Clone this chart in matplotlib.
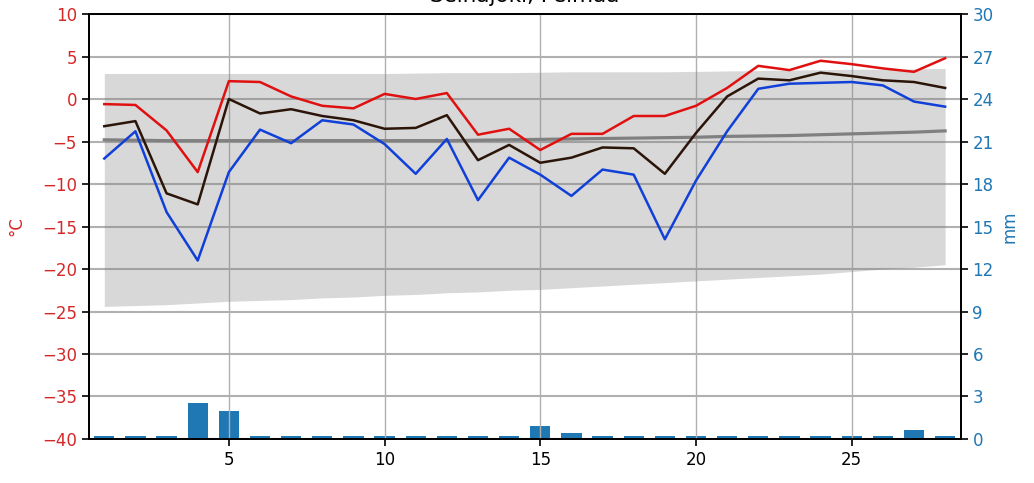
import matplotlib
matplotlib.use("Agg")
import matplotlib.pyplot as plt
import numpy as np

days = list(range(1, 29))

t_max = [-0.6, -0.7, -3.7, -8.6, 2.1, 2.0, 0.3, -0.8, -1.1, 0.6, 0.0, 0.7,
         -4.2, -3.5, -6.0, -4.1, -4.1, -2.0, -2.0, -0.8, 1.3, 3.9, 3.4, 4.5,
         4.1, 3.6, 3.2, 4.8]
t_mean = [-3.2, -2.6, -11.1, -12.4, 0.0, -1.7, -1.2, -2.0, -2.5, -3.5, -3.4, -1.9,
          -7.2, -5.4, -7.5, -6.9, -5.7, -5.8, -8.8, -4.0, 0.3, 2.4, 2.2, 3.1,
          2.7, 2.2, 2.0, 1.3]
t_min = [-7.0, -3.8, -13.3, -19.0, -8.6, -3.6, -5.2, -2.5, -3.0, -5.3, -8.8, -4.7,
         -11.9, -6.9, -8.9, -11.4, -8.3, -8.9, -16.5, -9.6, -3.8, 1.2, 1.8, 1.9,
         2.0, 1.6, -0.3, -0.9]
lt_mean = [-4.8, -4.85, -4.9, -4.9, -4.9, -4.9, -4.9, -4.9, -4.9, -4.9, -4.9, -4.9,
           -4.85, -4.8, -4.75, -4.7, -4.65, -4.6, -4.55, -4.5, -4.4, -4.35, -4.3, -4.2,
           -4.1, -4.0, -3.9, -3.75]
band_hi = [3.0, 3.0, 3.0, 3.0, 3.0, 3.0, 3.0, 3.0, 3.0, 3.0, 3.05, 3.1,
           3.1, 3.1, 3.15, 3.2, 3.2, 3.2, 3.2, 3.25, 3.3, 3.35, 3.4, 3.45,
           3.5, 3.5, 3.55, 3.6]
band_lo = [-24.4, -24.3, -24.2, -24.0, -23.8, -23.7, -23.6, -23.4, -23.3, -23.1, -23.0, -22.8,
           -22.7, -22.5, -22.4, -22.2, -22.0, -21.8, -21.6, -21.4, -21.2, -21.0, -20.8, -20.6,
           -20.3, -20.0, -19.8, -19.5]
precip = [0.2, 0.2, 0.2, 2.55, 1.95, 0.2, 0.2, 0.2, 0.2, 0.2, 0.2, 0.2,
          0.2, 0.2, 0.95, 0.45, 0.2, 0.2, 0.2, 0.2, 0.2, 0.2, 0.2, 0.2,
          0.2, 0.2, 0.65, 0.2]

title = "Seinäjoki, Pelmaa"
temp_ticks = [-40, -35, -30, -25, -20, -15, -10, -5, 0, 5, 10]
mm_ticks = [0, 3, 6, 9, 12, 15, 18, 21, 24, 27, 30]
x_ticks = [5, 10, 15, 20, 25]

RED = "#e01010"
BLUE = "#1040d8"
BROWN = "#2b1408"
TICK_RED = "#d62728"
TICK_BLUE = "#1f77b4"

fig = plt.figure(figsize=(10.34, 4.83), dpi=100)
ax = fig.add_axes([0.0858, 0.0911, 0.8433, 0.8799])
ax2 = ax.twinx()

ax.set_zorder(2)
ax.patch.set_visible(False)
ax2.set_zorder(1)

# grid
ax.set_axisbelow(True)
ax2.set_axisbelow(True)
ax2.grid(axis="y", color="#b0b0b0", linewidth=1.5)
ax2.grid(axis="x", visible=False)
ax.grid(axis="x", color="#b0b0b0", linewidth=1.0)

# precipitation bars
ax2.bar(days, precip, width=0.65, color="#1f77b4", zorder=2)
ax2.set_ylim(0, 30)
ax2.set_yticks(mm_ticks)
ax2.tick_params(axis="y", labelcolor=TICK_BLUE, labelsize=12, width=1.2, length=5)
ax2.set_ylabel("mm", color=TICK_BLUE, fontsize=12, labelpad=5)

# temperature
ax.fill_between(days, band_lo, band_hi, color="gray", alpha=0.3, linewidth=0, zorder=1)
ax.plot(days, lt_mean, color="#808080", linewidth=2.3, zorder=2)
ax.plot(days, t_min, color=BLUE, linewidth=1.8, zorder=3)
ax.plot(days, t_mean, color=BROWN, linewidth=1.8, zorder=3)
ax.plot(days, t_max, color=RED, linewidth=1.8, zorder=3)

ax.set_xlim(0.5, 28.5)
ax.set_ylim(-40, 10)
ax.set_yticks(temp_ticks)
ax.set_xticks(x_ticks)
ax.tick_params(axis="y", labelcolor=TICK_RED, labelsize=12, width=1.2, length=5)
ax.tick_params(axis="x", labelsize=12, width=1.2, length=5)
ax.set_ylabel("°C", color=TICK_RED, fontsize=12, labelpad=12)
ax.set_title(title, fontsize=15.5, pad=8.5)

for a in (ax, ax2):
    for s in a.spines.values():
        s.set_linewidth(1.3)
        s.set_color("black")

fig.savefig("out.png", dpi=100)
